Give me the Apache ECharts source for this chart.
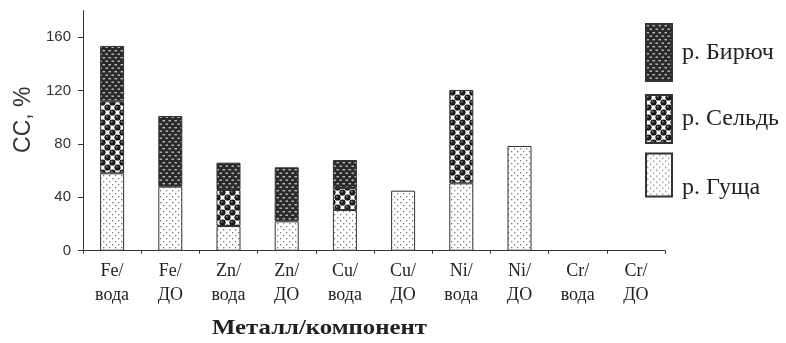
<!DOCTYPE html>
<html>
<head>
<meta charset="utf-8">
<script src="https://cdn.jsdelivr.net/npm/echarts@6/dist/echarts.min.js"></script>
<style>
  html, body { margin: 0; padding: 0; background: #fff; }
  #chart { width: 786px; height: 343px; }
</style>
</head>
<body>
<div id="chart"></div>
<script>
// Metal / sample component on the category axis
const categories = ['Fe/\nвода', 'Fe/\nДО', 'Zn/\nвода', 'Zn/\nДО', 'Cu/\nвода', 'Cu/\nДО', 'Ni/\nвода', 'Ni/\nДО', 'Cr/\nвода', 'Cr/\nДО'];
// Stacked CC, % per river
const gushcha = [58, 48, 18.5, 22, 30.5, 45, 50.5, 78.5, 0, 0];
const seld    = [54, 0, 27, 0, 16.5, 0, 70, 0, 0, 0];
const biryuch = [41.5, 53, 20.5, 40.5, 21, 0, 0, 0, 0, 0];
const yTicks  = [0, 40, 80, 120, 160];
const seriesNames = ['р. Гуща', 'р. Сельдь', 'р. Бирюч'];

// Hatch fills drawn on small repeating canvases
function tile(w, h, draw) {
  const c = document.createElement('canvas');
  c.width = w; c.height = h;
  draw(c.getContext('2d'), w, h);
  return { image: c, repeat: 'repeat' };
}
const dotFill = tile(6, 6, (g, w, h) => {
  g.fillStyle = '#fff'; g.fillRect(0, 0, w, h);
  g.fillStyle = '#777';
  g.fillRect(1, 1, 1.3, 1.3);
  g.fillRect(4, 4, 1.3, 1.3);
});
const ballFill = tile(10, 10, (g, w, h) => {
  g.fillStyle = '#fff'; g.fillRect(0, 0, w, h);
  const ball = (x, y) => {
    const gr = g.createRadialGradient(x - 1, y - 1, 0.3, x, y, 3.2);
    gr.addColorStop(0, '#888');
    gr.addColorStop(0.35, '#222');
    gr.addColorStop(1, '#111');
    g.fillStyle = gr;
    g.beginPath(); g.arc(x, y, 3.1, 0, Math.PI * 2); g.fill();
  };
  ball(2.5, 2.5); ball(7.5, 7.5);
  ball(-2.5, 7.5); ball(12.5, 2.5); ball(2.5, 12.5); ball(7.5, -2.5);
});
const dashFill = tile(6, 7, (g, w, h) => {
  g.fillStyle = '#2b2b2b'; g.fillRect(0, 0, w, h);
  g.fillStyle = '#bdbdbd';
  g.fillRect(0.5, 1, 2.5, 1.4);
  g.fillRect(3.5, 4.5, 2.5, 1.4);
});

const serif = '"Liberation Serif", "Times New Roman", serif';
const sans = '"Liberation Sans", Arial, sans-serif';

// Empty segments are left out of the stack instead of drawn as flat outlines
function barSeries(name, data, fill) {
  return {
    name: name,
    type: 'bar',
    stack: 'cc',
    data: data.map(v => (v === 0 ? '-' : v)),
    barWidth: 24,
    itemStyle: { color: fill, borderColor: '#333', borderWidth: 1 },
    emphasis: { disabled: true }
  };
}

// One legend block per river so each swatch can sit at its own height;
// dropLines pushes the caption below the swatch's centre
function legendAt(name, top, iconH, dropLines) {
  return {
    data: [name],
    left: 640,
    top: top - 5,
    orient: 'vertical',
    itemWidth: 26,
    itemHeight: iconH,
    itemGap: 0,
    icon: 'rect',
    selectedMode: false,
    formatter: n => (dropLines ? '\n' + n : n),
    textStyle: {
      fontFamily: serif,
      fontSize: 24,
      color: '#222',
      lineHeight: dropLines ? 26 : 28,
      padding: [0, 0, 0, 5]
    }
  };
}

const chart = echarts.init(document.getElementById('chart'));
chart.setOption({
  animation: false,
  backgroundColor: '#fff',
  grid: { left: 83, right: 121, top: 10.6, bottom: 92.3, containLabel: false },
  legend: [
    legendAt('р. Бирюч', 23, 57, false),
    legendAt('р. Сельдь', 94, 48, false),
    legendAt('р. Гуща', 149, 43, true)
  ],
  xAxis: {
    type: 'category',
    data: categories,
    boundaryGap: true,
    axisLine: { lineStyle: { color: '#333', width: 1 } },
    axisTick: { show: true, length: 3, lineStyle: { color: '#333' } },
    axisLabel: {
      interval: 0,
      margin: 9,
      fontFamily: serif,
      fontSize: 18,
      lineHeight: 24,
      color: '#222'
    },
    splitLine: { show: false }
  },
  yAxis: {
    type: 'value',
    min: 0,
    max: 180,
    interval: 40,
    name: 'CC, %',
    nameLocation: 'middle',
    nameGap: 48,
    nameRotate: 90,
    nameTextStyle: { fontFamily: sans, fontSize: 23, color: '#333', padding: [0, 0, 0, 22] },
    axisLine: { show: true, lineStyle: { color: '#333', width: 1 } },
    axisTick: { show: true, length: 5, customValues: yTicks, lineStyle: { color: '#333' } },
    axisLabel: { customValues: yTicks, margin: 12, fontFamily: sans, fontSize: 15, color: '#333' },
    splitLine: { show: false }
  },
  graphic: [{
    type: 'text',
    x: 212,
    y: 318,
    scaleX: 1.18,
    style: { text: 'Металл/компонент', font: 'bold 21px ' + serif, fill: '#222' }
  }],
  series: [
    barSeries(seriesNames[0], gushcha, dotFill),
    barSeries(seriesNames[1], seld, ballFill),
    barSeries(seriesNames[2], biryuch, dashFill)
  ]
});
</script>
</body>
</html>
